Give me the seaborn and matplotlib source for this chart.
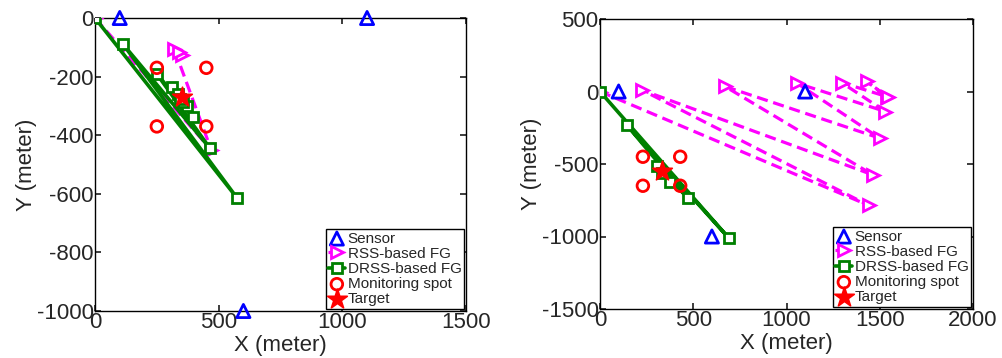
import numpy as np
import pandas as pd
import matplotlib
matplotlib.use("Agg")
import matplotlib.pyplot as plt
import seaborn as sns

# ---- left panel data ----
left_sensor_x = [100, 1100, 600]
left_sensor_y = [0, 0, -1000]
left_spot_x = [250, 450, 250, 450]
left_spot_y = [-170, -170, -370, -370]
left_target = (350, -270)
left_rss_x = [0, 470, 320, 350, 340]
left_rss_y = [0, -450, -105, -125, -115]
left_drss_x = [0, 575, 112, 465, 249, 397, 312, 370, 335, 355, 345]
left_drss_y = [0, -615, -88, -445, -190, -338, -236, -302, -260, -285, -275]

# ---- right panel data ----
right_sensor_x = [100, 1100, 600]
right_sensor_y = [0, 0, -1000]
right_spot_x = [230, 430, 230, 430]
right_spot_y = [-450, -450, -650, -650]
right_target = (330, -550)
right_rss_x = [0, 1440, 225, 1465, 670, 1500, 1055, 1530, 1295, 1537, 1430, 1545]
right_rss_y = [0, -785, 10, -576, 35, -322, 58, -138, 62, -35, 69, -40]
right_drss_x = [0, 690, 143, 473, 304, 375, 330]
right_drss_y = [0, -1010, -230, -737, -514, -622, -560]

sns.set_theme(style="ticks")
plt.rcParams['font.family'] = ['Liberation Sans', 'DejaVu Sans']
plt.rcParams['axes.unicode_minus'] = False
plt.rcParams['xtick.direction'] = 'in'
plt.rcParams['ytick.direction'] = 'in'

fig = plt.figure(figsize=(10.03, 3.58), dpi=100)
W, H = 1003, 358
ax1 = fig.add_axes([95 / W, (H - 311) / H, 371 / W, 293 / H])
ax2 = fig.add_axes([600 / W, (H - 309) / H, 373 / W, 290 / H])


def draw_panel(ax, sx, sy, spx, spy, tgt, rx, ry, dx, dy):
    sns.lineplot(x=rx, y=ry, ax=ax, sort=False, estimator=None, color='magenta',
                 linestyle=(0, (3.5, 1.8)), linewidth=2.3, marker='>', markersize=9,
                 markerfacecolor='white', markeredgecolor='magenta', markeredgewidth=2,
                 label='RSS-based FG', zorder=3)
    sns.lineplot(x=dx, y=dy, ax=ax, sort=False, estimator=None, color='green',
                 linestyle='-', linewidth=2.6, marker='s', markersize=7,
                 markerfacecolor='white', markeredgecolor='green', markeredgewidth=2,
                 label='DRSS-based FG', zorder=4)
    sns.scatterplot(x=sx, y=sy, ax=ax, marker='^', s=90, facecolor='none',
                    edgecolor='blue', linewidth=2, label='Sensor', zorder=5, clip_on=False)
    sns.scatterplot(x=spx, y=spy, ax=ax, marker='o', s=70, facecolor='none',
                    edgecolor='red', linewidth=2, label='Monitoring spot', zorder=5)
    sns.scatterplot(x=[tgt[0]], y=[tgt[1]], ax=ax, marker='*', s=220, color='red',
                    edgecolor='red', label='Target', zorder=6)
    handles, labels = ax.get_legend_handles_labels()
    order = ['Sensor', 'RSS-based FG', 'DRSS-based FG', 'Monitoring spot', 'Target']
    hmap = dict(zip(labels, handles))
    leg = ax.legend([hmap[k] for k in order], order, loc='lower right', fontsize=11,
                    frameon=True, fancybox=False, edgecolor='black', framealpha=1,
                    borderaxespad=0.15, handlelength=1.1, handletextpad=0.15,
                    labelspacing=0.08, borderpad=0.15)
    leg.get_frame().set_linewidth(1)
    ax.set_xlabel('X (meter)', fontsize=16, labelpad=1)
    ax.set_ylabel('Y (meter)', fontsize=16, labelpad=0)
    ax.tick_params(labelsize=16, top=True, right=True, length=4, pad=1)
    for s in ax.spines.values():
        s.set_linewidth(1)
        s.set_color('black')


draw_panel(ax1, left_sensor_x, left_sensor_y, left_spot_x, left_spot_y, left_target,
           left_rss_x, left_rss_y, left_drss_x, left_drss_y)
ax1.set_xlim(0, 1500)
ax1.set_ylim(-1000, 0)
ax1.set_xticks([0, 500, 1000, 1500])
ax1.set_yticks([-1000, -800, -600, -400, -200, 0])

draw_panel(ax2, right_sensor_x, right_sensor_y, right_spot_x, right_spot_y, right_target,
           right_rss_x, right_rss_y, right_drss_x, right_drss_y)
ax2.set_xlim(0, 2000)
ax2.set_ylim(-1500, 500)
ax2.set_xticks([0, 500, 1000, 1500, 2000])
ax2.set_yticks([-1500, -1000, -500, 0, 500])

fig.savefig('out.png', dpi=100)
